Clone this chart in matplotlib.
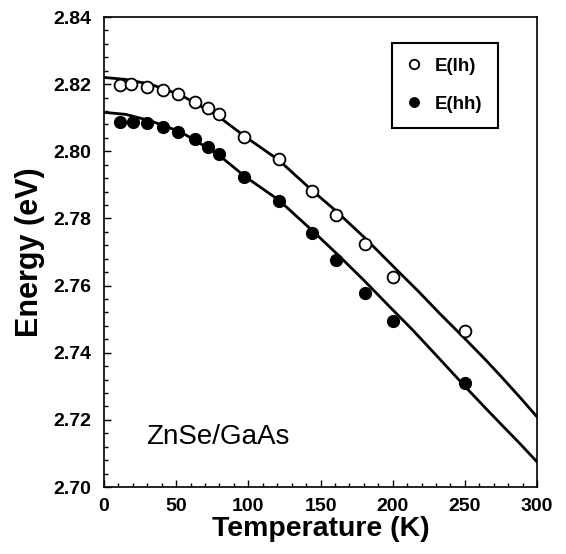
import matplotlib
matplotlib.use("Agg")
import matplotlib.pyplot as plt
from matplotlib.ticker import MultipleLocator

# measured data points
T_lh = [11, 19, 30, 41, 51, 63, 72, 80, 97, 121, 144, 161, 181, 200, 250]
E_lh = [2.8197, 2.8200, 2.8192, 2.8183, 2.8172, 2.8148, 2.8130, 2.8110,
        2.8043, 2.7978, 2.7882, 2.7810, 2.7723, 2.7625, 2.7465]
T_hh = [11, 20, 30, 41, 51, 63, 72, 80, 97, 121, 144, 161, 181, 200, 250]
E_hh = [2.8088, 2.8088, 2.8085, 2.8073, 2.8058, 2.8036, 2.8014, 2.7991,
        2.7924, 2.7852, 2.7758, 2.7676, 2.7579, 2.7495, 2.7311]

# fitted curves
Tfit_lh = [0, 15, 32, 53, 78, 98, 121, 144, 160, 180, 203, 218, 233, 250, 265, 276, 288, 300]
Efit_lh = [2.8220, 2.8214, 2.8200, 2.8168, 2.8108, 2.8043, 2.7974, 2.7884,
           2.7825, 2.7745, 2.7646, 2.7582, 2.7515, 2.7442, 2.7376, 2.7325,
           2.7268, 2.7209]
Tfit_hh = [0, 15, 32, 53, 78, 98, 121, 144, 162, 180, 197, 214, 232, 250, 265, 276, 288, 300]
Efit_hh = [2.8116, 2.8110, 2.8091, 2.8058, 2.7994, 2.7924, 2.7855, 2.7765,
           2.7692, 2.7616, 2.7541, 2.7467, 2.7384, 2.7300, 2.7232, 2.7183,
           2.7130, 2.7075]

xticks = [0, 50, 100, 150, 200, 250, 300]
yticks = [2.70, 2.72, 2.74, 2.76, 2.78, 2.80, 2.82, 2.84]

plt.rcParams['font.family'] = ['Liberation Sans', 'DejaVu Sans']

fig = plt.figure(figsize=(5.66, 5.54), dpi=100)
ax = fig.add_axes([104/566, 1-487/554, 433/566, 470/554])

ax.plot(Tfit_lh, Efit_lh, color='black', lw=2.0, zorder=2)
ax.plot(Tfit_hh, Efit_hh, color='black', lw=2.0, zorder=2)
ax.plot(T_lh, E_lh, 'o', ms=8.5, mfc='white', mec='black', mew=1.3,
        ls='none', label='E(lh)', zorder=3)
ax.plot(T_hh, E_hh, 'o', ms=8.5, mfc='black', mec='black',
        ls='none', label='E(hh)', zorder=3)

ax.set_xlim(0, 300)
ax.set_ylim(2.70, 2.84)
ax.set_xticks(xticks)
ax.set_yticks(yticks)
ax.set_xticklabels([str(t) for t in xticks])
ax.set_yticklabels(['%.2f' % v for v in yticks])
ax.xaxis.set_minor_locator(MultipleLocator(10))
ax.yaxis.set_minor_locator(MultipleLocator(0.004))
ax.tick_params(which='both', direction='in', top=False, right=False,
               labelsize=14, width=1.0)
ax.tick_params(which='major', length=5)
ax.tick_params(which='minor', length=3)
ax.tick_params(axis='y', pad=9)
ax.tick_params(axis='x', pad=8)
for lab in ax.get_xticklabels() + ax.get_yticklabels():
    lab.set_fontweight('bold')
for s in ax.spines.values():
    s.set_linewidth(1.2)

ax.set_xlabel('Temperature (K)', fontsize=20.5, fontweight='bold', labelpad=1)
ax.set_ylabel('Energy (eV)', fontsize=22, fontweight='bold', labelpad=6)

leg = ax.legend(loc='upper left', bbox_to_anchor=(0.665, 0.945),
                prop={'weight': 'bold', 'size': 13.5}, frameon=True,
                fancybox=False, edgecolor='black', framealpha=1,
                markerscale=0.8, handlelength=0.8, handletextpad=0.7,
                labelspacing=1.1, borderpad=0.8, borderaxespad=0)
leg.get_frame().set_linewidth(1.5)

ax.text(0.098, 0.107, 'ZnSe/GaAs', transform=ax.transAxes, fontsize=20,
        va='center', ha='left')

fig.savefig('out.png', dpi=100)
